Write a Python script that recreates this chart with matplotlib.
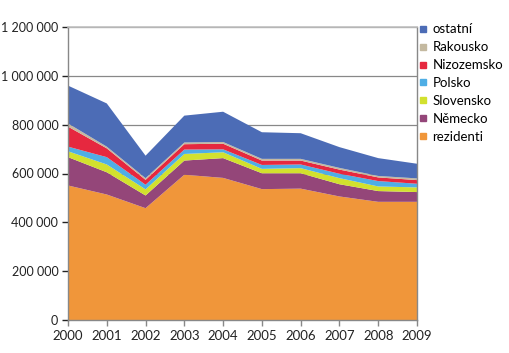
import matplotlib
matplotlib.use("Agg")
import matplotlib.pyplot as plt
from matplotlib.lines import Line2D
from matplotlib.ticker import FuncFormatter

years = [2000, 2001, 2002, 2003, 2004, 2005, 2006, 2007, 2008, 2009]
rezidenti  = [551000, 514000, 458000, 595000, 582000, 536000, 538000, 506000, 484000, 484000]
nemecko    = [116000, 91000, 52000, 58000, 81000, 65000, 63000, 50000, 44000, 40000]
slovensko  = [24000, 32000, 25000, 27000, 24000, 18000, 21000, 25000, 19000, 19000]
polsko     = [19000, 30000, 19000, 18000, 12000, 16000, 15000, 18000, 22000, 15000]
nizozemsko = [82000, 36000, 20000, 22000, 23000, 18000, 16000, 17000, 15000, 15000]
rakousko   = [13000, 7000, 7000, 7000, 7000, 7000, 7000, 7000, 6000, 7000]
ostatni    = [155000, 177000, 92000, 110000, 124000, 109000, 105000, 85000, 73000, 60000]

labels = ["rezidenti", "Německo", "Slovensko", "Polsko", "Nizozemsko", "Rakousko", "ostatní"]
colors = ["#F0963A", "#944679", "#D2E12E", "#4FAEE5", "#E6283F", "#C4B9A0", "#4C6CB6"]
yticks = [0, 200000, 400000, 600000, 800000, 1000000, 1200000]

plt.rcParams['font.family'] = ['Lato', 'DejaVu Sans']

fig = plt.figure(figsize=(5.10, 3.53), dpi=100)
ax = fig.add_axes([68/510, 33/353, (417-68)/510, (320-27)/353])

series = [rezidenti, nemecko, slovensko, polsko, nizozemsko, rakousko, ostatni]
ax.stackplot(years, *series, colors=colors, linewidth=0, zorder=2)

ax.set_xlim(years[0], years[-1])
ax.set_ylim(0, 1200000)
ax.set_yticks(yticks)
ax.set_xticks(years)
ax.yaxis.set_major_formatter(FuncFormatter(lambda v, p: f"{int(v):,}".replace(",", " ")))
ax.grid(axis='y', color='#888888', linewidth=0.9, zorder=1)
ax.set_axisbelow(True)

for s in ['left', 'bottom']:
    ax.spines[s].set_color('#888888')
    ax.spines[s].set_linewidth(1.0)
ax.spines['right'].set_color('#888888')
ax.spines['right'].set_linewidth(1.0)
ax.spines['top'].set_color('#C0C0C0')
ax.spines['top'].set_linewidth(1.2)

ax.tick_params(axis='y', length=4, width=1.0, color='#222222', labelsize=9, pad=3, labelcolor='#222222')
ax.tick_params(axis='x', length=4, width=1.0, color='#888888', labelsize=9.5, pad=3, labelcolor='#222222')

handles = [Line2D([], [], marker='s', linestyle='none', markersize=5,
                  markerfacecolor=c, markeredgecolor=c) for c in colors]
leg = fig.legend(handles[::-1], labels[::-1], loc='upper left',
                 bbox_to_anchor=(414/510, 1 - 18/353), frameon=False,
                 fontsize=9.5, handlelength=0.6, handletextpad=0.4,
                 labelspacing=0.45, borderaxespad=0)

fig.savefig("out.png", dpi=100)
